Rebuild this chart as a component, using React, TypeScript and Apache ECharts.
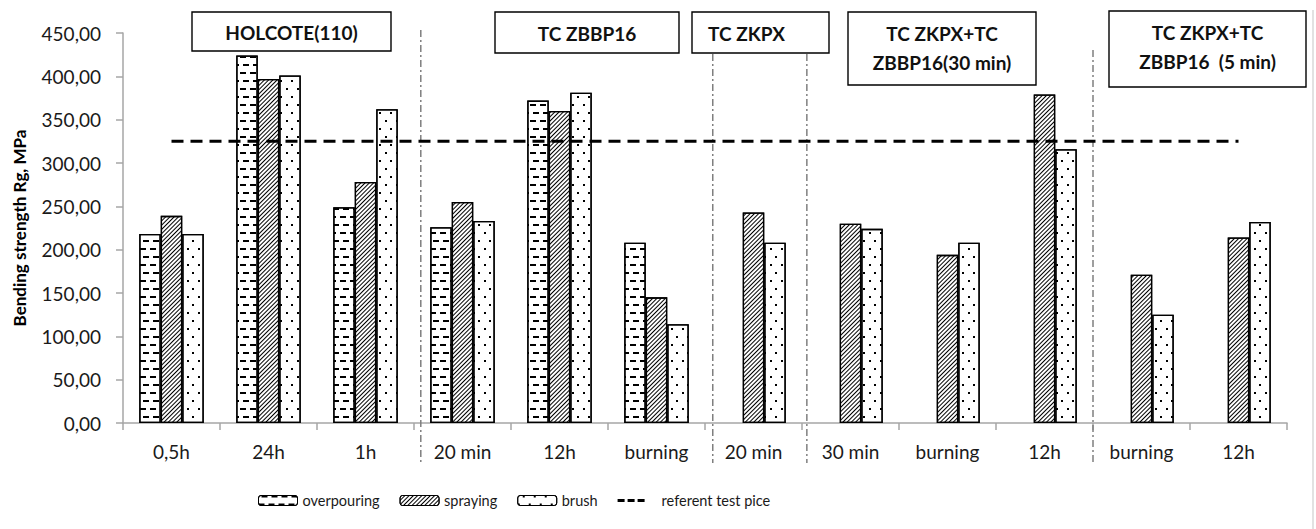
import React, { useEffect, useRef } from "react";
import * as echarts from "echarts";

const xLabels = ["0,5h", "24h", "1h", "20 min", "12h", "burning", "20 min", "30 min", "burning", "12h", "burning", "12h"];
const overpouring = [218, 424, 249, 226, 372, 208, null, null, null, null, null, null];
const spraying = [239, 397, 278, 255, 360, 145, 243, 230, 194, 379, 171, 214];
const brush = [218, 401, 362, 233, 381, 114, 208, 224, 208, 316, 125, 232];
const referentValue = 325;
const referent = xLabels.map(() => referentValue);
const yTicks = { min: 0, max: 450, interval: 50 };
const groupTitles = [
  { lines: ["HOLCOTE(110)"], box: [192, 12, 199, 39], align: "center" },
  { lines: ["TC ZBBP16"], box: [495, 12, 184, 41], align: "center" },
  { lines: ["TC ZKPX"], box: [692, 12, 137, 41], align: "left" },
  { lines: ["TC ZKPX+TC", "ZBBP16(30 min)"], box: [848, 12, 188, 73], align: "center" },
  { lines: ["TC ZKPX+TC", "ZBBP16  (5 min)"], box: [1109, 11, 197, 76], align: "center" },
];
// separator positions in category-band units, with their top y
const separators = [
  { pos: 3.07, top: 30 },
  { pos: 6.08, top: 54 },
  { pos: 7.05, top: 54 },
  { pos: 10.0, top: 50 },
];

const FONT = "Lato, 'Noto Sans', sans-serif";
const TXT = "#1a1a1a";
// three short dashes inside a 39x10 box (tiny corner marks fix the box)
const DASH_ICON =
  "path://M0,0L0.01,0L0,0.01Z M39,10L38.99,10L39,9.99Z M0,3.5h7v3h-7Z M10,3.5h7v3h-7Z M20,3.5h7v3h-7Z";

export default function App() {
  const ref = useRef<HTMLDivElement>(null);
  useEffect(() => {
    if (!ref.current) return;
    const chart = echarts.init(ref.current, null, { renderer: "svg" });
    const borderStyle = { borderColor: "#000", borderWidth: 1.3 };
    const staticGraphic: any[] = [];
    groupTitles.forEach((g, i) => {
      const [x, y, w, h] = g.box;
      staticGraphic.push({
        id: "box" + i,
        type: "rect",
        shape: { x, y, width: w, height: h },
        style: { fill: "#fff", stroke: "#000", lineWidth: 1.4 },
        z: 10,
      });
      g.lines.forEach((ln, j) => {
        const cy = g.lines.length === 1 ? y + h / 2 + 1 : y + 21 + j * 29;
        staticGraphic.push({
          id: "boxt" + i + "_" + j,
          type: "text",
          x: g.align === "left" ? x + 16 : x + w / 2,
          y: cy,
          style: {
            text: ln,
            fill: "#111",
            font: `bold 19px ${FONT}`,
            textAlign: g.align === "left" ? "left" : "center",
            textVerticalAlign: "middle",
          },
          z: 11,
        });
      });
    });
    staticGraphic.push({
      id: "frame",
      type: "line",
      shape: { x1: 1313, y1: 10, x2: 1313, y2: 529 },
      style: { stroke: "#d9d9d9", lineWidth: 1.5 },
    });

    chart.setOption({
      animation: false,
      backgroundColor: "#fff",
      textStyle: { fontFamily: FONT },
      grid: { left: 123, right: 29, top: 33, bottom: 106 },
      legend: {
        left: 253,
        top: 488,
        itemWidth: 39,
        itemHeight: 10,
        itemGap: 20,
        textStyle: { fontSize: 14.5, color: TXT, fontFamily: FONT },
        data: [
          { name: "overpouring", itemStyle: { borderWidth: 1 } },
          { name: "spraying", itemStyle: { borderWidth: 1 } },
          { name: "brush", itemStyle: { borderWidth: 1 } },
          { name: "referent test pice", icon: DASH_ICON, itemStyle: { color: "#000" } },
        ],
      },
      xAxis: {
        type: "category",
        data: xLabels.map((_, i) => String(i)),
        axisLine: { lineStyle: { color: "#a6a6a6", width: 1.5 } },
        axisTick: { show: true, length: 7, lineStyle: { color: "#a6a6a6", width: 1.5 } },
        axisLabel: {
          formatter: (_: string, i: number) => xLabels[i],
          fontSize: 19,
          color: TXT,
          margin: 19,
          interval: 0,
        },
      },
      yAxis: {
        type: "value",
        min: yTicks.min,
        max: yTicks.max,
        interval: yTicks.interval,
        name: "Bending strength Rg, MPa",
        nameLocation: "middle",
        nameGap: 95,
        nameTextStyle: { fontWeight: "bold", fontSize: 17, color: "#000", fontFamily: FONT },
        axisLine: { show: true, lineStyle: { color: "#a6a6a6", width: 1.5 } },
        axisTick: { show: true, length: 7, lineStyle: { color: "#a6a6a6", width: 1.5 } },
        splitLine: { show: false },
        axisLabel: {
          formatter: (v: number) => v.toFixed(2).replace(".", ","),
          fontSize: 19,
          color: TXT,
          margin: 22,
        },
      },
      series: [
        {
          name: "overpouring",
          type: "bar",
          data: overpouring,
          barWidth: 21.5,
          barGap: "0%",
          itemStyle: {
            color: "#fff",
            ...borderStyle,
            decal: {
              symbol: "rect",
              symbolSize: 1,
              color: "#000",
              backgroundColor: "#fff",
              dashArrayX: [[6, 4], [0, 3, 6, 1]],
              dashArrayY: [1.1, 5.2],
              rotation: 0,
            },
          },
        },
        {
          name: "spraying",
          type: "bar",
          data: spraying,
          barWidth: 21.5,
          barGap: "0%",
          itemStyle: {
            color: "#fff",
            ...borderStyle,
            decal: {
              symbol: "rect",
              symbolSize: 1,
              color: "#000",
              backgroundColor: "#fff",
              dashArrayX: [1, 0],
              dashArrayY: [0.9, 1.7],
              rotation: -Math.PI / 4,
            },
          },
        },
        {
          name: "brush",
          type: "bar",
          data: brush,
          barWidth: 21.5,
          barGap: "0%",
          itemStyle: {
            color: "#fff",
            ...borderStyle,
            decal: {
              symbol: "rect",
              symbolSize: 1,
              color: "#000",
              backgroundColor: "#fff",
              dashArrayX: [[1.1, 8.9], [0, 5, 1.1, 3.9]],
              dashArrayY: [1.1, 5.5],
              rotation: 0,
            },
          },
        },
        {
          name: "referent test pice",
          type: "line",
          data: referent,
          symbol: "none",
          showSymbol: false,
          z: 5,
          lineStyle: { color: "#000", width: 3, type: [12, 7] },
          itemStyle: { color: "#000" },
        },
      ],
      graphic: staticGraphic,
    });

    const x0 = chart.convertToPixel({ xAxisIndex: 0 }, 0) as number;
    const x1 = chart.convertToPixel({ xAxisIndex: 0 }, 1) as number;
    const band = x1 - x0;
    const start = x0 - band / 2;
    const sepGraphic = separators.map((s, i) => {
      const x = start + s.pos * band;
      return {
        id: "sep" + i,
        type: "line",
        shape: { x1: x, y1: s.top, x2: x, y2: 463 },
        style: { stroke: "#7f7f7f", lineWidth: 1.5, lineDash: [7, 3, 2, 3] },
        z: 4,
      };
    });
    chart.setOption({ graphic: [...staticGraphic, ...sepGraphic] });

    return () => chart.dispose();
  }, []);
  return <div ref={ref} style={{ position: "fixed", left: 0, top: 0, width: 1316, height: 529 }} />;
}
